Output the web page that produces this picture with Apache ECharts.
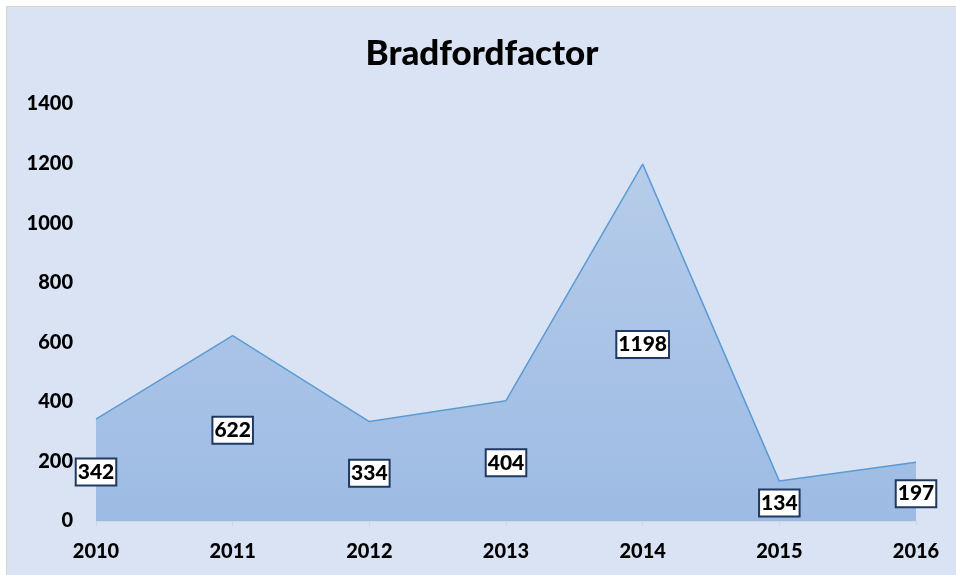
<!DOCTYPE html>
<html>
<head>
<meta charset="utf-8">
<script src="https://cdn.jsdelivr.net/npm/echarts@6/dist/echarts.min.js"></script>
<style>
  html, body { margin: 0; padding: 0; background: #ffffff; overflow: hidden; }
  #frame { position: absolute; left: 6px; top: 6px; border-left: 1px solid #d4d4d4; border-top: 1px solid #d4d4d4; }
  #container { width: 950px; height: 569px; background: #dae3f3; }
</style>
</head>
<body>
<div id="frame"><div id="container"></div></div>
<script>
var years = ["2010", "2011", "2012", "2013", "2014", "2015", "2016"];
var values = [342, 622, 334, 404, 1198, 134, 197];
var yTicks = [0, 200, 400, 600, 800, 1000, 1200, 1400];

var dom = document.getElementById("container");
var myChart = echarts.init(dom, null, { renderer: "canvas" });

var font = "Lato, 'Liberation Sans', sans-serif";

var option = {
  backgroundColor: "transparent",
  animation: false,
  title: {
    text: "Bradfordfactor",
    left: "center",
    top: 24,
    textStyle: { fontFamily: font, fontSize: 35, fontWeight: 900, color: "#000" },
  },
  grid: { left: 89, right: 41, top: 97, bottom: 55 },
  xAxis: {
    type: "category",
    data: years,
    boundaryGap: false,
    axisLine: { lineStyle: { color: "#d0d5de", width: 1.5 } },
    axisTick: { show: true, length: 5, lineStyle: { color: "#d0d5de" } },
    axisLabel: { margin: 21, fontFamily: font, fontSize: 20, fontWeight: 900, color: "#000" },
  },
  yAxis: {
    type: "value",
    min: yTicks[0],
    max: yTicks[yTicks.length - 1],
    interval: 200,
    axisLine: { show: false },
    axisTick: { show: false },
    splitLine: { show: false },
    axisLabel: {
      margin: 23,
      formatter: function (v) { return String(v); },
      fontFamily: font, fontSize: 20, fontWeight: 900, color: "#000",
    },
  },
  series: [
    {
      type: "line",
      data: values,
      symbol: "none",
      lineStyle: { color: "#5b9bd5", width: 1.5 },
      areaStyle: {
        color: new echarts.graphic.LinearGradient(0, 0, 0, 1, [
          { offset: 0, color: "#b6ccea" },
          { offset: 1, color: "#9dbbe3" },
        ]),
        opacity: 1,
      },
      z: 2,
    },
    {
      // labels sit halfway up each point
      type: "scatter",
      data: values.map(function (v) { return v / 2; }),
      symbolSize: 0,
      silent: true,
      itemStyle: { opacity: 1 },
      z: 5,
      label: {
        show: true,
        position: "inside",
        offset: [0, 2],
        formatter: function (p) { return values[p.dataIndex]; },
        fontFamily: font,
        fontSize: 21,
        fontWeight: 900,
        color: "#000",
        opacity: 1,
        backgroundColor: "#ffffff",
        borderColor: "#1f3864",
        borderWidth: 2,
        padding: [3, 1, 1, 1],
      },
    },
  ],
};

myChart.setOption(option);
window.addEventListener("resize", myChart.resize);
</script>
</body>
</html>
